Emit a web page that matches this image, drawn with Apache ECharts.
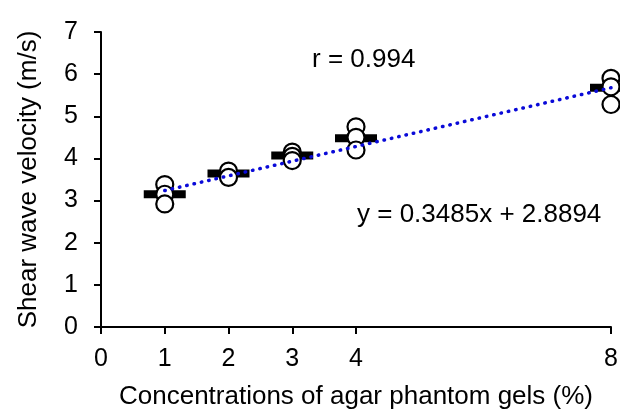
<!DOCTYPE html>
<html>
<head>
<meta charset="utf-8">
<script src="https://cdn.jsdelivr.net/npm/echarts@6/dist/echarts.min.js"></script>
<style>
  html, body { margin: 0; padding: 0; background: #fff; }
  #chart { width: 620px; height: 409px; }
</style>
</head>
<body>
<div id="chart"></div>
<script>
// agar concentration (%) and mean shear wave velocity (m/s)
var concentrations = [1, 2, 3, 4, 8];
var meanVelocity = [3.15, 3.64, 4.07, 4.48, 5.68];
// individual measurements per concentration
var samples = [
    [1, 3.38], [1, 3.15], [1, 2.92],
    [2, 3.70], [2, 3.55],
    [3, 4.15], [3, 4.05], [3, 3.95],
    [4, 4.75], [4, 4.50], [4, 4.20],
    [8, 5.90], [8, 5.70], [8, 5.28]
];
var xTicks = [0, 1, 2, 3, 4, 8];
var slope = 0.3485, intercept = 2.8894;
var rValue = 'r = 0.994';
var eqText = 'y = 0.3485x + 2.8894';

var fontFam = '"Liberation Sans", Arial, sans-serif';
var trend = [1, 8].map(function (x) { return [x, slope * x + intercept]; });

var chart = echarts.init(document.getElementById('chart'));
var option = {
    animation: false,
    textStyle: { fontFamily: fontFam },
    grid: { left: 101, right: 9, top: 32, bottom: 82, outerBoundsMode: 'none', containLabel: false },
    xAxis: {
        type: 'value',
        min: 0, max: 8, interval: 1,
        name: 'Concentrations of agar phantom gels (%)',
        nameLocation: 'middle',
        nameGap: 57,
        nameTextStyle: { fontSize: 26, color: '#000', fontFamily: fontFam },
        axisLine: { show: true, lineStyle: { color: '#000', width: 2 } },
        axisTick: { show: true, length: 7, customValues: xTicks, lineStyle: { color: '#000', width: 2 } },
        axisLabel: { customValues: xTicks, fontSize: 25, color: '#000', margin: 20, fontFamily: fontFam },
        splitLine: { show: false }
    },
    yAxis: {
        type: 'value',
        min: 0, max: 7, interval: 1,
        name: 'Shear wave velocity (m/s)',
        nameLocation: 'middle',
        nameGap: 59,
        nameTextStyle: { fontSize: 26, color: '#000', fontFamily: fontFam },
        axisLine: { show: true, lineStyle: { color: '#000', width: 2 } },
        axisTick: { show: true, length: 7, lineStyle: { color: '#000', width: 2 } },
        axisLabel: { fontSize: 25, color: '#000', margin: 23, fontFamily: fontFam },
        splitLine: { show: false }
    },
    series: [
        {
            name: 'mean',
            type: 'scatter',
            symbol: 'rect',
            symbolSize: [42, 8],
            itemStyle: { color: '#000', opacity: 1 },
            data: concentrations.map(function (c, i) { return [c, meanVelocity[i]]; }),
            z: 2
        },
        {
            name: 'samples',
            type: 'scatter',
            symbol: 'circle',
            symbolSize: 17,
            itemStyle: { color: '#fff', borderColor: '#000', borderWidth: 2.2, opacity: 1 },
            data: samples,
            z: 3
        },
        {
            name: 'fit',
            type: 'line',
            data: trend,
            symbol: 'none',
            lineStyle: { color: '#0a0ad8', width: 3.5, type: [0.5, 7], cap: 'round' },
            z: 4
        }
    ],
    graphic: [
        { type: 'text', left: 312, top: 47, style: { text: rValue, fill: '#000', font: '26px ' + fontFam } },
        { type: 'text', left: 357, top: 202, style: { text: eqText, fill: '#000', font: '26px ' + fontFam } }
    ]
};
chart.setOption(option);
</script>
</body>
</html>
